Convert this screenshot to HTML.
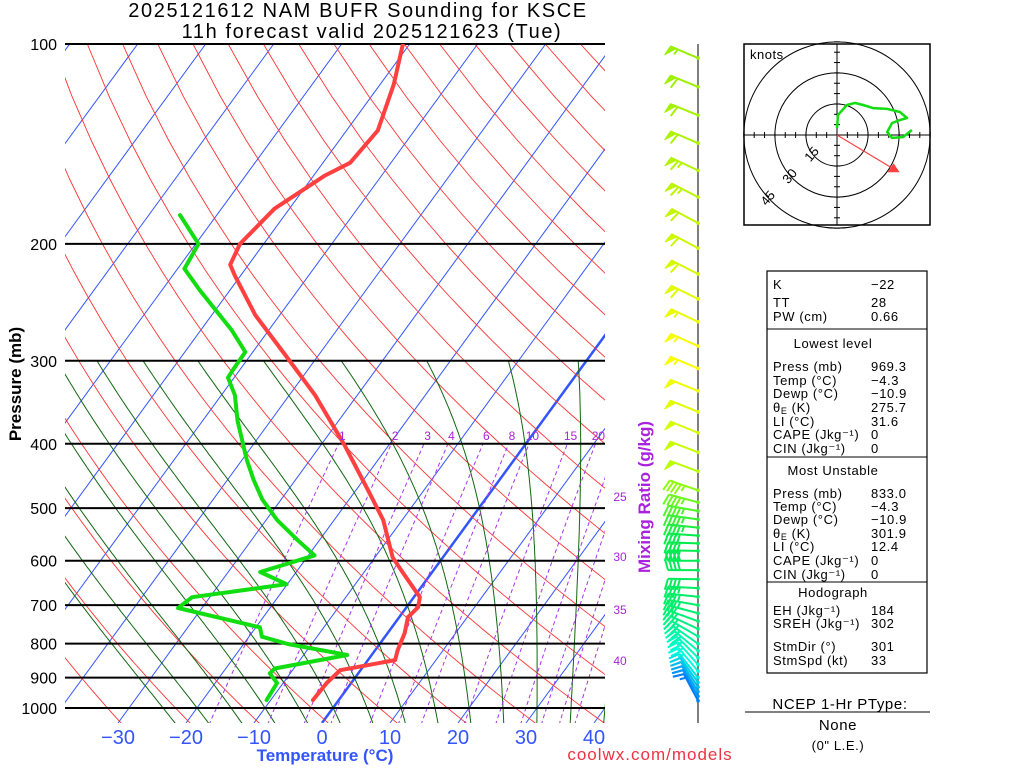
<!DOCTYPE html>
<html><head><meta charset="utf-8"><style>
body{margin:0;background:#fff;width:1024px;height:768px;overflow:hidden}
svg text{font-family:"Liberation Sans",sans-serif}
.tb{font-size:13px;letter-spacing:0.6px;fill:#000}
</style></head><body>
<svg id="chart" width="1024" height="768" viewBox="0 0 1024 768" xmlns="http://www.w3.org/2000/svg">
<defs><clipPath id="plotclip"><rect x="65" y="44" width="540" height="679"/></clipPath></defs>
<text x="358" y="17" text-anchor="middle" font-size="20" letter-spacing="1.6">2025121612 NAM BUFR Sounding for KSCE</text>
<text x="372" y="38" text-anchor="middle" font-size="20" letter-spacing="1.6">11h forecast valid 2025121623 (Tue)</text>
<g id="bg" clip-path="url(#plotclip)"></g>
<g id="iso"></g>
<g id="prof" clip-path="url(#plotclip)"></g>
<g id="labels"></g>
<text transform="translate(21,384) rotate(-90)" text-anchor="middle" font-size="17" font-weight="bold">Pressure (mb)</text>
<text x="325" y="761" text-anchor="middle" font-size="17" font-weight="bold" fill="#3355ff">Temperature (°C)</text>
<text transform="translate(650,497) rotate(-90)" text-anchor="middle" font-size="17" font-weight="bold" fill="#aa22dd">Mixing Ratio (g/kg)</text>
<text x="650" y="760" text-anchor="middle" font-size="17" fill="#ee3344" letter-spacing="1">coolwx.com/models</text>
<line x1="698" y1="44" x2="698" y2="723" stroke="#555" stroke-width="1.5"/>
<g id="barbs"></g>
<g id="hodo">
<rect x="744" y="44" width="186" height="181" fill="none" stroke="#000" stroke-width="1.5"/>
<text x="750" y="59" font-size="13" letter-spacing="0.5">knots</text>
</g>
<g>
<rect x="767" y="271" width="160" height="402" fill="none" stroke="#000" stroke-width="1.2"/>
<line x1="767" y1="329" x2="927" y2="329" stroke="#000"/>
<line x1="767" y1="457" x2="927" y2="457" stroke="#000"/>
<line x1="767" y1="582" x2="927" y2="582" stroke="#000"/>
<g class="tb">
<text x="773" y="289">K</text><text x="871" y="289">−22</text>
<text x="773" y="307">TT</text><text x="871" y="307">28</text>
<text x="773" y="321">PW (cm)</text><text x="871" y="321">0.66</text>
<text x="833" y="348" text-anchor="middle">Lowest level</text>
<text x="773" y="371">Press (mb)</text><text x="871" y="371">969.3</text>
<text x="773" y="385">Temp (°C)</text><text x="871" y="385">−4.3</text>
<text x="773" y="398">Dewp (°C)</text><text x="871" y="398">−10.9</text>
<text x="773" y="412">θ<tspan font-size="9" dy="2">E</tspan><tspan dy="-2"> (K)</tspan></text><text x="871" y="412">275.7</text>
<text x="773" y="426">LI (°C)</text><text x="871" y="426">31.6</text>
<text x="773" y="439">CAPE (Jkg⁻¹)</text><text x="871" y="439">0</text>
<text x="773" y="453">CIN (Jkg⁻¹)</text><text x="871" y="453">0</text>
<text x="833" y="475" text-anchor="middle">Most Unstable</text>
<text x="773" y="498">Press (mb)</text><text x="871" y="498">833.0</text>
<text x="773" y="511">Temp (°C)</text><text x="871" y="511">−4.3</text>
<text x="773" y="524">Dewp (°C)</text><text x="871" y="524">−10.9</text>
<text x="773" y="538">θ<tspan font-size="9" dy="2">E</tspan><tspan dy="-2"> (K)</tspan></text><text x="871" y="538">301.9</text>
<text x="773" y="551">LI (°C)</text><text x="871" y="551">12.4</text>
<text x="773" y="565">CAPE (Jkg⁻¹)</text><text x="871" y="565">0</text>
<text x="773" y="579">CIN (Jkg⁻¹)</text><text x="871" y="579">0</text>
<text x="833" y="597" text-anchor="middle">Hodograph</text>
<text x="773" y="615">EH (Jkg⁻¹)</text><text x="871" y="615">184</text>
<text x="773" y="628">SREH (Jkg⁻¹)</text><text x="871" y="628">302</text>
<text x="773" y="651">StmDir (°)</text><text x="871" y="651">301</text>
<text x="773" y="665">StmSpd (kt)</text><text x="871" y="665">33</text>
</g></g>
<g class="tb">
<text x="840" y="709" text-anchor="middle" font-size="15">NCEP 1-Hr PType:</text>
<line x1="745" y1="712" x2="930" y2="712" stroke="#000"/>
<text x="838" y="730" text-anchor="middle" font-size="15">None</text>
<text x="838" y="750" text-anchor="middle">(0" L.E.)</text>
</g>
</svg>
<script>
// ---- data ----
const tempP = [973,917,877,868,847,818,771,730,705,681,626,593,521,470,402,338,294,256,223,215,200,177,158,151,135,115,100];
const tempT = [-3.8,-3.6,-3.0,-0.9,4.0,3.3,2.5,1.3,1.7,0.9,-4.2,-7.4,-12.8,-18.2,-26.5,-36.2,-44.9,-53.6,-60.9,-62.7,-63.5,-62.2,-58.4,-56.0,-55.4,-58.0,-61];
const dewP = [973,917,887,872,832,801,781,756,707,681,651,624,589,558,521,485,453,423,369,338,318,310,291,270,235,218,200,181];
const dewT = [-10.6,-10.9,-13.0,-12.8,-3.6,-13.5,-18.1,-19.4,-33.5,-32.6,-20.1,-25.3,-19.1,-23.3,-28.4,-32.8,-36.2,-39.3,-44.9,-48.0,-50.9,-51.0,-51.1,-55.4,-64.4,-69.0,-69.6,-75.4];
const pressTicks = [100,200,300,400,500,600,700,800,900,1000];
const tempTicks = [-30,-20,-10,0,10,20,30,40];
const mixRatios = [1,2,3,4,6,8,10,15,20,25,30,35,40];
const mixSideLabelY = [497,557,610,661];
const barbP = [105,116,128,141,155,170,186,203,222,242,262,285,308,333,358,385,412,440,470,490,505,520,535,550,565,580,600,620,640,660,680,700,720,740,760,780,800,820,840,860,880,900,915,930,945,960,975];
const barbDir = [293,292,292,293,295,297,298,298,297,296,295,294,293,292,292,292,291,290,289,285,280,278,276,274,272,271,270,270,271,273,276,280,285,290,295,300,305,310,315,318,320,322,324,326,328,330,332];
const barbSpd = [55,60,62,64,65,65,64,63,62,60,58,57,55,54,52,52,52,50,48,47,46,45,45,44,43,42,42,41,40,38,36,35,34,33,32,32,31,30,29,28,27,25,24,23,22,20,18];
const hodoU = [0,0.5,4.8,8.7,12.6,17.4,24.2,30.4,33.8,30.4,26.6,24.2,26.6,31.9,36.2];
const hodoV = [3.4,9.7,14.5,15.5,14.5,13.0,12.6,11.1,8.2,7.2,5.8,1.4,-1.4,-1.0,2.4];
const stormU = 28.3, stormV = -17;
// ---- axes ----
const NS='http://www.w3.org/2000/svg';
function Y(p){return 44+664*Math.log10(p/100);}
function X(T,p){return 322+6.8*T+0.73*(723-Y(p));}
function mk(tag,attrs,parent){const e=document.createElementNS(NS,tag);for(const k in attrs)e.setAttribute(k,attrs[k]);parent.appendChild(e);return e;}
function pathFrom(P,T){return P.map((p,i)=>(i?'L':'M')+X(T[i],p).toFixed(1)+','+Y(p).toFixed(1)).join('');}
const bg=document.getElementById('bg');
for(let T=-140;T<=40;T+=10){
  const l=mk('line',{x1:322+6.8*T,y1:723,x2:322+6.8*T+0.73*679,y2:44,stroke:'#3355ff','stroke-width':T===0?2.5:1},bg);
  
  
}
for(let th=220;th<=560;th+=10){
  let d='';const ps=[];for(let p=1060;p>=100;p-=20)ps.push(p);
  ps.forEach((p,i)=>{const T=th*Math.pow(p/1000,0.2857)-273.15;d+=(i?'L':'M')+X(T,p).toFixed(1)+','+Y(p).toFixed(1);});
  const e=mk('path',{d:d,fill:'none',stroke:'#ff3333','stroke-width':0.9},bg);
  
  
}
function esat(T){return 6.112*Math.exp(17.67*T/(T+243.5));}
for(let T0=-25;T0<=40;T0+=5){
  let T=T0,p=1000;const pts=[];
  let Td=T0;for(let pp=1000;pp<1060;pp+=5){const Tk=Td+273.15,rs=0.622*esat(Td)/(pp-esat(Td));Td+=5*(287*Tk+2.5e6*rs)/(pp*(1005+2.5e6*2.5e6*rs*0.622/(287*Tk*Tk)));}
  T=Td;p=1060;
  while(p>=300){pts.push([p,T]);const Tk=T+273.15,es=esat(T),rs=0.622*es/(p-es);
    const dT=(287*Tk+2.5e6*rs)/(p*(1005+2.5e6*2.5e6*rs*0.622/(287*Tk*Tk)));T-=5*dT;p-=5;}
  const e=mk('path',{d:pathFrom(pts.map(a=>a[0]),pts.map(a=>a[1])),fill:'none',stroke:'#116611','stroke-width':1},bg);
  
  
}
mixRatios.forEach(w=>{
  const P=[],T=[];for(let p=1060;p>=400;p-=10){const es=w*p/(622+w);const L=Math.log(es/6.112);P.push(p);T.push(243.5*L/(17.67-L));}
  const e=mk('path',{d:pathFrom(P,T),fill:'none',stroke:'#aa33ee','stroke-width':1,'stroke-dasharray':'4,3'},bg);
  
  
});
const lab=document.getElementById('labels');
let side=0;
mixRatios.forEach(w=>{
  let x,y;
  if(w<=20){const p=389;const es=w*p/(622+w);const L=Math.log(es/6.112);x=X(243.5*L/(17.67-L),p);y=440;}
  else{x=620;y=mixSideLabelY[side++]+4;}
  const t=mk('text',{x:x,y:y,'text-anchor':'middle','font-size':12,fill:'#aa22dd'},lab);t.textContent=w;
  
  
});
const iso=document.getElementById('iso');
pressTicks.forEach(p=>{
  const l=mk('line',{x1:65,x2:605,y1:Y(p),y2:Y(p),stroke:'#000','stroke-width':2},iso);
  
  
  const t=mk('text',{x:57,y:Y(p)+6,'text-anchor':'end','font-size':16},lab);t.textContent=p;
  
  
});
tempTicks.forEach(T=>{
  const t=mk('text',{x:322+6.8*T,y:744,'text-anchor':'middle','font-size':20,fill:'#3355ff'},lab);t.textContent=(T<0?'−':'')+Math.abs(T);
  
  
});
const prof=document.getElementById('prof');
const tl=mk('path',{d:pathFrom(tempP,tempT),fill:'none',stroke:'#ff4040','stroke-width':4,'stroke-linejoin':'round','stroke-linecap':'round'},prof);


const dl=mk('path',{d:pathFrom(dewP,dewT),fill:'none',stroke:'#11dd11','stroke-width':4,'stroke-linejoin':'round','stroke-linecap':'round'},prof);


function barbColor(p){
  const stops=[[100,[150,240,0]],[300,[255,255,0]],[450,[180,255,0]],[550,[0,235,70]],[750,[0,240,120]],[880,[0,255,220]],[980,[0,120,255]]];
  for(let i=1;i<stops.length;i++){if(p<=stops[i][0]){const a=stops[i-1],b=stops[i];const f=(p-a[0])/(b[0]-a[0]);
    const c=a[1].map((v,k)=>Math.round(v+(b[1][k]-v)*Math.max(0,f)));return 'rgb('+c.join(',')+')';}}
  return 'rgb(0,120,255)';
}
const bg2=document.getElementById('barbs');
barbP.forEach((p,i)=>{
  const g=mk('g',{stroke:barbColor(p),fill:barbColor(p),'stroke-width':2},bg2);
  
  
  const d=barbDir[i]*Math.PI/180,sx=Math.sin(d),sy=-Math.cos(d);
  const bx=698,by=Y(p),L=30;const tx=bx+sx*L,ty=by+sy*L;
  mk('line',{x1:bx,y1:by,x2:tx,y2:ty},g);
  const px=-sy,py=sx;
  const qx=sy<0?-px:px, qy=sy<0?-py:py;
  const ux=(qy<0)?px:-px, uy=(qy<0)?py:-py;
  let s=barbSpd[i],pos=0;
  while(s>=50){const ax=tx-sx*pos,ay=ty-sy*pos;
    mk('polygon',{points:`${ax},${ay} ${ax+ux*10+sx*2},${ay+uy*10+sy*2} ${ax-sx*6},${ay-sy*6}`,'stroke-width':1},g);s-=50;pos+=8;}
  while(s>=10){const ax=tx-sx*pos,ay=ty-sy*pos;mk('line',{x1:ax,y1:ay,x2:ax+ux*11+sx*3,y2:ay+uy*11+sy*3},g);s-=10;pos+=4;}
  if(s>=5){const ax=tx-sx*pos,ay=ty-sy*pos;mk('line',{x1:ax,y1:ay,x2:ax+ux*6+sx*1.5,y2:ay+uy*6+sy*1.5},g);}
  mk('circle',{cx:bx,cy:by,r:1.8,stroke:'none'},g);
});
const hg=document.getElementById('hodo');
const cx=837,cy=135,k=2.07;
[15,30,45].forEach(r=>{const c=mk('circle',{cx:cx,cy:cy,r:r*k,fill:'none',stroke:'#000','stroke-width':1},hg);
  
  
  const a=Math.PI*0.75;const t=mk('text',{x:cx+Math.cos(a)*r*k,y:cy+Math.sin(a)*r*k,'font-size':13,'text-anchor':'middle',transform:`rotate(-50 ${cx+Math.cos(a)*r*k} ${cy+Math.sin(a)*r*k})`},hg);t.textContent=r;
  
  });
mk('line',{x1:744,y1:cy,x2:930,y2:cy,stroke:'#000'},hg);
mk('line',{x1:cx,y1:44,x2:cx,y2:225,stroke:'#000'},hg);
for(let s=-45;s<=45;s+=5){if(!s)continue;mk('line',{x1:cx+s*k,y1:cy-3,x2:cx+s*k,y2:cy+3,stroke:'#000'},hg);mk('line',{x1:cx-3,y1:cy+s*k,x2:cx+3,y2:cy+s*k,stroke:'#000'},hg);}
const hl=mk('path',{d:hodoU.map((u,i)=>(i?'L':'M')+(cx+u*k).toFixed(1)+','+(cy-hodoV[i]*k).toFixed(1)).join(''),fill:'none',stroke:'#11dd11','stroke-width':2.5,'stroke-linejoin':'round'},hg);


const sx2=cx+stormU*k,sy2=cy-stormV*k;
const sl=mk('line',{x1:cx,y1:cy,x2:sx2,y2:sy2,stroke:'#ff4040','stroke-width':1.2},hg);


mk('polygon',{points:`${sx2+4},${sy2+2} ${sx2-8},${sy2+2} ${sx2-2},${sy2-7}`,fill:'#ff4040'},hg);
</script>
</body></html>
